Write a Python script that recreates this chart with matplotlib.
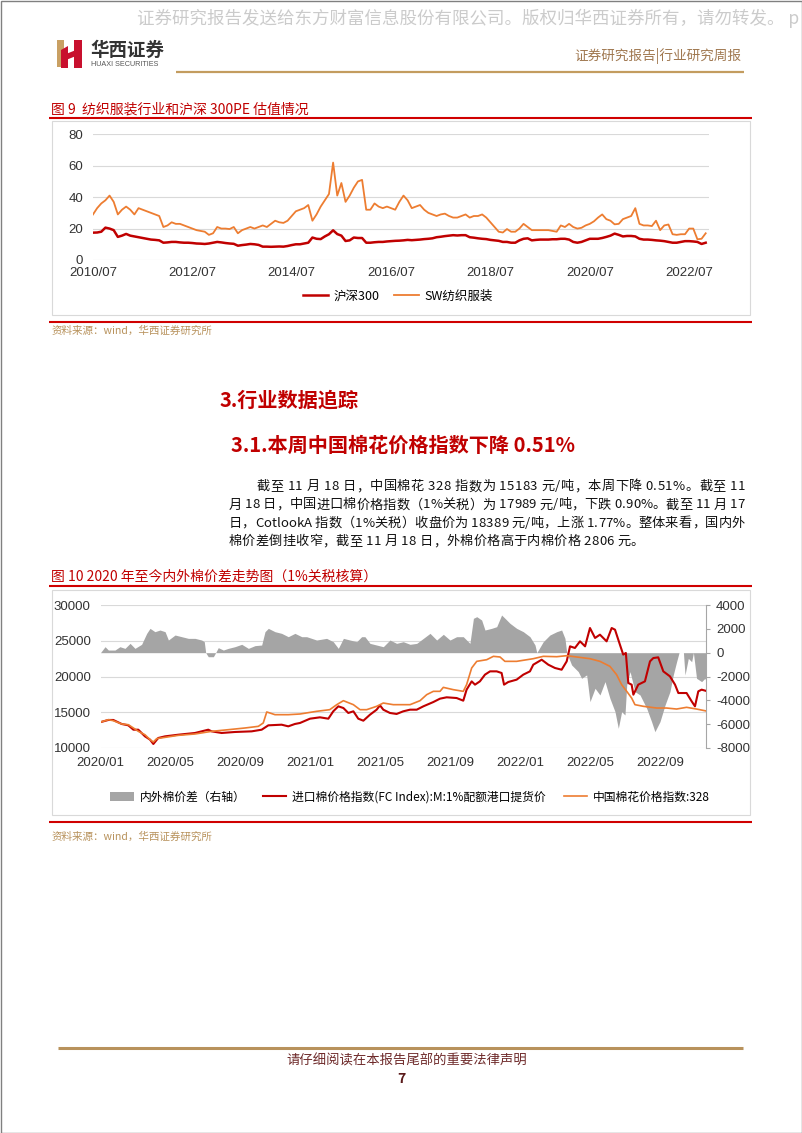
import numpy as np
import matplotlib
matplotlib.use("Agg")
import matplotlib.pyplot as plt
from matplotlib.lines import Line2D
from matplotlib.patches import Rectangle, Polygon, Patch

plt.rcParams['font.family'] = ['Noto Sans CJK SC', 'DejaVu Sans']
plt.rcParams['axes.unicode_minus'] = False
NUM = ['Liberation Sans Narrow', 'Liberation Sans', 'DejaVu Sans']

# ---- figure 9 data: monthly PE, 2010/07 .. 2022/11 ----
pe_ticks = [0, 24, 48, 72, 96, 120, 144]
pe_tick_labels = ["2010/07", "2012/07", "2014/07", "2016/07", "2018/07", "2020/07", "2022/07"]
hs300_pe = [17.4, 17.5, 18, 20.6, 20, 19,
            14.7, 15.5, 16.6, 15.5, 15, 14.5, 14, 13.5, 13, 12.8, 12.5, 11,
            11.2, 11.5, 11.5, 11.2, 11, 11, 10.8, 10.5, 10.4, 10.2, 10.5, 11,
            11.5, 11.2, 10.8, 10.5, 10.3, 9.1, 9.5, 9.8, 10.2, 10, 9.6, 8.5,
            8.5, 8.4, 8.5, 8.6, 8.5, 8.9, 9.5, 10, 10, 10.5, 11, 14.3,
            13.5, 13.3, 15, 16.4, 18.9, 16.5, 15.5, 12.1, 12.5, 14.3, 14, 14,
            11, 11, 11.3, 11.5, 11.5, 11.8, 12, 12.2, 12.3, 12.5, 12.8, 12.6,
            12.8, 13, 13.3, 13.5, 13.8, 14.5, 14.8, 15.2, 15.5, 15.8, 15.6, 15.8,
            15.8, 14.5, 14.2, 13.8, 13.5, 13.3, 12.8, 12.5, 12.2, 11.5, 11.5, 11,
            11, 12.5, 13.5, 13.8, 12.5, 12.8, 13, 13, 13, 13.2, 13.2, 13.5,
            13.5, 13, 11.5, 11, 11.5, 12.5, 13.5, 13.5, 13.5, 14, 14.7, 15.5,
            16.8, 16, 15, 15.3, 15.3, 15, 13.5, 13, 13, 12.8, 12.5, 12.3,
            12, 11.5, 11, 11, 11.5, 12, 12, 11.8, 11.5, 10.2, 11]
sw_textile_pe = [29, 33, 36, 38, 41, 37,
                 29, 32, 34, 32, 29, 33, 32, 31, 30, 29, 28, 21,
                 22, 24, 23, 23, 22, 21, 20, 19, 18.5, 18, 16, 17,
                 21, 20, 20, 19.7, 21, 17, 19, 20, 21, 20, 21, 22,
                 21, 23, 25, 24, 23.6, 25, 28, 31, 32, 33, 35, 25,
                 29, 34, 38, 42, 62, 41, 49, 37, 41, 46, 50, 51,
                 32, 32, 36, 34, 33, 34, 33, 32, 37, 41, 38, 33,
                 34, 35, 32, 30, 29, 28, 29, 29.5, 28, 27, 27, 28,
                 29, 27, 28, 28, 29, 27, 24, 21, 18, 17.5, 19.7, 18,
                 18, 20, 23, 21, 19, 19, 19, 19, 19, 18.5, 18, 22,
                 21, 23, 21, 20, 20.5, 22, 23, 24.6, 27, 29, 26, 25,
                 22.7, 23, 26, 27, 28, 33, 23, 22, 22, 21.6, 25, 19,
                 22, 22.6, 16.4, 16, 16.4, 16.4, 20, 20, 13.2, 13.5, 17]
pe_months = np.arange(len(hs300_pe))

# ---- figure 10 data: months since 2020/01 ----
cot_ticks = [0, 4, 8, 12, 16, 20, 24, 28, 32]
cot_tick_labels = ["2020/01", "2020/05", "2020/09", "2021/01", "2021/05",
                   "2021/09", "2022/01", "2022/05", "2022/09"]
inner_m = [0.03, 0.45, 0.73, 1.21, 1.59, 1.88, 2.16, 2.54, 2.83, 3.02, 3.21, 3.69, 4.45, 5.40,
           6.35, 7.30, 8.26, 9.02, 9.30, 9.50, 9.97, 10.73, 11.4, 12.35, 13.1, 13.5, 13.88,
           14.07, 14.45, 14.83, 15.21, 15.78, 16.16, 16.73, 17.69, 18.26, 18.64, 19.02, 19.4,
           19.59, 20.16, 20.73, 20.92, 21.21, 21.5, 22.07, 22.45, 22.83, 23.11, 23.78, 24.73,
           25.3, 26.07, 26.64, 27.21, 27.97, 28.54, 29.11, 29.49, 29.78, 30.07, 30.35, 30.54,
           31.02, 31.78, 32.35, 32.92, 33.49, 34.06, 34.6]
inner_price = [13640, 13960, 13820, 13360, 13260, 12800, 12330, 11860, 11170, 10840, 11310,
               11490, 11770, 11960, 12330, 12560, 12800, 13030, 13500, 15040, 14660, 14660,
               14755, 15130, 15360, 16060, 16620, 16430, 16060, 15360, 15360, 15830, 16290,
               16060, 16060, 16620, 17460, 17925, 17925, 18480, 18160, 17925, 18860, 21190,
               22120, 22350, 22820, 22730, 22120, 22120, 22490, 22820, 22770, 22910, 22730,
               22490, 22120, 21420, 20260, 18860, 17925, 16990, 16060, 15830, 15590, 15590,
               15450, 15690, 15450, 15183]
import_m = [0.03, 0.45, 0.73, 1.21, 1.59, 1.88, 2.16, 2.54, 2.83, 3.02, 3.30, 3.69, 4.45, 5.40,
            6.16, 6.35, 6.92, 7.68, 8.64, 9.21, 9.59, 10.35, 10.73, 11.11, 11.4, 11.97, 12.54,
            13.02, 13.3, 13.59, 13.88, 14.16, 14.45, 14.73, 15.02, 15.4, 15.78, 15.97, 16.16,
            16.54, 16.92, 17.3, 17.69, 18.07, 18.45, 19.02, 19.4, 19.78, 20.35, 20.73, 20.92,
            21.21, 21.4, 21.68, 21.97, 22.26, 22.64, 22.92, 23.06, 23.3, 23.78, 24.16, 24.54,
            24.73, 25.21, 25.59, 25.97, 26.35, 26.64, 26.83, 27.11, 27.4, 27.69, 27.97, 28.26,
            28.54, 28.92, 29.21, 29.4, 29.68, 29.87, 30.02, 30.16, 30.35, 30.45, 30.73, 31.11,
            31.4, 31.59, 31.87, 32.16, 32.54, 32.83, 33.02, 33.49, 33.78, 33.97, 34.16, 34.35, 34.6]
import_price = [13640, 13920, 13920, 13360, 13170, 12560, 12560, 11630, 11170, 10560, 11400,
                11630, 11860, 12100, 12560, 12330, 12100, 12240, 12330, 12560, 13170, 13260,
                13030, 13360, 13500, 14100, 14290, 14100, 15130, 15830, 15590, 14900, 15130,
                14100, 13820, 14660, 15360, 15970, 15360, 14900, 14760, 15130, 15360, 15360,
                15830, 16430, 16900, 17090, 16990, 16620, 18160, 19320, 18860, 19320, 20260,
                20720, 20720, 20490, 18860, 19230, 19560, 20260, 20720, 21650, 22350, 21650,
                21190, 20950, 22120, 24220, 23990, 24920, 24220, 26780, 25390, 25850, 24920,
                26780, 26550, 24460, 23060, 23290, 19090, 18860, 17460, 18860, 19320, 22120,
                22580, 22680, 20720, 20020, 18860, 17690, 17690, 16530, 15830, 17925, 18160, 17989]
spread_m = [0.0, 0.26, 0.45, 0.83, 1.11, 1.4, 1.69, 1.97, 2.35, 2.64, 2.83, 3.11, 3.4, 3.69,
            3.88, 4.26, 4.64, 5.02, 5.4, 5.78, 5.93, 6.01, 6.16, 6.45, 6.58, 6.73, 7.02, 7.3,
            7.68, 8.07, 8.45, 8.83, 9.21, 9.4, 9.59, 9.97, 10.35, 10.73, 11.11, 11.5, 11.78,
            12.35, 12.92, 13.3, 13.59, 13.88, 14.26, 14.64, 14.92, 15.11, 15.4, 15.78, 16.16,
            16.54, 16.92, 17.3, 17.69, 18.07, 18.45, 18.83, 19.21, 19.59, 19.97, 20.35, 20.73,
            21.11, 21.31, 21.5, 21.78, 21.97, 22.35, 22.64, 22.92, 23.21, 23.4, 23.78, 24.16,
            24.54, 24.83, 24.93, 25.02, 25.3, 25.68, 26.07, 26.35, 26.54, 26.64, 26.92, 27.3,
            27.49, 27.78, 27.97, 28.26, 28.54, 28.83, 29.11, 29.4, 29.59, 29.78, 29.97, 30.07,
            30.26, 30.54, 30.83, 31.21, 31.49, 31.68, 31.97, 32.26, 32.54, 32.73, 32.92, 33.06,
            33.31, 33.4, 33.59, 33.78, 33.88, 34.06, 34.35, 34.54, 34.6]
spread_val = [0, 500, 220, 220, 500, 360, 780, 360, 700, 1620, 2040, 1760, 1900, 1760, 1060,
              1480, 1340, 1200, 1200, 1060, 920, 0, -340, -340, 0, 420, 220, 360, 500, 700,
              360, 590, 640, 1760, 2040, 1760, 1620, 1340, 1620, 1340, 1340, 1060, 1200, 920,
              360, 1200, 1060, 920, 1340, 1340, 780, 640, 500, 1060, 780, 920, 700, 780, 1200,
              1620, 1060, 1540, 1060, 1340, 1340, 780, 2880, 3020, 2740, 1900, 2040, 2180, 3160,
              2740, 2460, 2040, 1760, 1340, 640, 0, 220, 920, 1480, 1760, 1900, 1200, 0, -1030,
              -1590, -2150, -1870, -4110, -2990, -3550, -2430, -3830, -4950, -6350, -4950, -5230,
              -2710, -1590, -3270, -3550, -4670, -5790, -6630, -5790, -4390, -3270, -1870, -760,
              0, 0, -1870, -480, -760, 0, -2150, -2430, -2150, -2400]

para_lines = [
    "截至 11 月 18 日，中国棉花 328 指数为 15183 元/吨，本周下降 0.51%。截至 11",
    "月 18 日，中国进口棉价格指数（1%关税）为 17989 元/吨，下跌 0.90%。截至 11 月 17",
    "日，CotlookA 指数（1%关税）收盘价为 18389 元/吨，上涨 1.77%。整体来看，国内外",
    "棉价差倒挂收窄，截至 11 月 18 日，外棉价格高于内棉价格 2806 元。",
]

RED = '#c00000'
ORANGE = '#ed7d31'
GOLD = '#b8925c'
GRID = '#d9d9d9'

W, H = 802, 1133
fig = plt.figure(figsize=(W / 100, H / 100), dpi=100)


def fx(x):
    return x / W


def fy(y):
    return 1 - y / H


def box(l, t, r, b):
    return [l / W, 1 - b / H, (r - l) / W, (b - t) / H]


def hline(x1, x2, y, color, lw):
    fig.add_artist(Line2D([fx(x1), fx(x2)], [fy(y), fy(y)], transform=fig.transFigure,
                          color=color, lw=lw, solid_capstyle='butt'))


def frame(l, t, r, b, color, lw):
    fig.add_artist(Rectangle((fx(l), fy(b)), (r - l) / W, (b - t) / H, transform=fig.transFigure,
                             fill=False, edgecolor=color, lw=lw))


def poly(pts, color):
    fig.add_artist(Polygon([(fx(a), fy(b)) for a, b in pts], closed=True,
                           transform=fig.transFigure, facecolor=color, edgecolor='none'))


def txt(x, y, s, **kw):
    kw.setdefault('va', 'center')
    return fig.text(fx(x), fy(y), s, **kw)


renderer = fig.canvas.get_renderer()


def width_of(s, size):
    t = fig.text(0, 0, s, size=size)
    w = t.get_window_extent(renderer).width
    t.remove()
    return w


def spaced_line(x0, y, s, size, x1=None, extra=None):
    # place characters one by one so the line can be stretched like the report text
    mark = width_of('x', size)
    pre = [0.0] + [width_of(s[:k] + 'x', size) - mark for k in range(1, len(s))]
    if extra is None:
        extra = (x1 - x0 - width_of(s, size)) / (len(s) - 1)
    for k, ch in enumerate(s):
        if ch != ' ':
            txt(x0 + pre[k] + k * extra, y, ch, size=size, color='#111111', ha='left')
    return extra


# ---- page frame & header ----
frame(0.5, 0.5, W - 0.5, H - 0.5, '#808080', 1.0)
txt(137, 18, "证券研究报告发送给东方财富信息股份有限公司。版权归华西证券所有，请勿转发。 p",
    size=12.6, color='#cbcbcb')
poly([(57, 40), (64, 40), (64, 67), (57, 67)], '#c9a063')
poly([(61, 50), (68, 46), (68, 68), (61, 68)], '#c8102e')
poly([(74, 40), (82, 40), (82, 68), (74, 68)], '#c8102e')
poly([(66, 54), (76, 50), (76, 56), (66, 60)], '#c8102e')
txt(90, 50, "华西证券", size=13.3, weight='bold', color='#333333')
txt(91, 64, "HUAXI SECURITIES", size=5.2, color='#555555', family=NUM)
txt(741, 56, "证券研究报告|行业研究周报", size=9.8, color='#a07850', ha='right')
hline(176, 744, 72, '#c39c5f', 1.6)

# ---- figure 9 ----
txt(51, 110, "图 9  纺织服装行业和沪深 300PE 估值情况", size=10, color=RED)
hline(49, 752, 118, '#d00000', 1.5)
frame(52, 121, 750, 315, GRID, 0.8)

ax1 = fig.add_axes(box(93, 134.3, 709, 260))
l_hs, = ax1.plot(pe_months, hs300_pe, color=RED, lw=1.8)
l_sw, = ax1.plot(pe_months, sw_textile_pe, color=ORANGE, lw=1.3)
ax1.set_xlim(0, 148.8)
ax1.set_ylim(0, 80)
ax1.set_yticks([0, 20, 40, 60, 80])
ax1.set_xticks(pe_ticks)
ax1.set_xticklabels(pe_tick_labels)
ax1.grid(axis='y', color=GRID, lw=0.8)
ax1.set_axisbelow(True)
for s in ax1.spines.values():
    s.set_visible(False)
ax1.tick_params(length=0, labelsize=9.5, colors='#333333')
ax1.tick_params(axis='y', pad=7)
ax1.tick_params(axis='x', pad=5)
for lab in ax1.get_xticklabels() + ax1.get_yticklabels():
    lab.set_fontfamily(NUM)
fig.legend([l_hs, l_sw], ["沪深300", "SW纺织服装"], loc='center',
           bbox_to_anchor=(fx(398), fy(296)), ncol=2, frameon=False, fontsize=9,
           handlelength=2.0, columnspacing=1.2, handletextpad=0.4)

hline(49, 752, 322, '#d00000', 1.5)
txt(52, 331, "资料来源：wind，华西证券研究所", size=7.6, color=GOLD)

# ---- section text ----
txt(220, 400, "3.行业数据追踪", size=14.5, weight='bold', color=RED)
txt(231, 445, "3.1.本周中国棉花价格指数下降 0.51%", size=14.5, weight='bold', color=RED)
para_y = [486.7, 505, 523.3, 541.7]
gaps = []
gaps.append(spaced_line(256.7, para_y[0], para_lines[0], 9.5, x1=745))
gaps.append(spaced_line(228.3, para_y[1], para_lines[1], 9.5, x1=745))
gaps.append(spaced_line(228.3, para_y[2], para_lines[2], 9.5, x1=745))
spaced_line(228.3, para_y[3], para_lines[3], 9.5, extra=float(np.mean(gaps)))

# ---- figure 10 ----
txt(51, 577, "图 10 2020 年至今内外棉价差走势图（1%关税核算）", size=10, color=RED)
hline(49, 752, 586, '#d00000', 1.5)
frame(52, 590, 750, 815, GRID, 0.8)

pos2 = box(100.5, 605, 706, 748)
axg = fig.add_axes(pos2)
axg.set_xlim(0, 34.6)
axg.set_ylim(10000, 30000)
axg.set_yticks([10000, 15000, 20000, 25000, 30000])
axg.grid(axis='y', color=GRID, lw=0.8)
axg.tick_params(length=0, labelleft=False, labelbottom=False)
for s in axg.spines.values():
    s.set_visible(False)

axr = fig.add_axes(pos2)
axr.patch.set_visible(False)
axr.fill_between(spread_m, spread_val, 0, color='#a5a5a5', lw=0)
axr.set_xlim(0, 34.6)
axr.set_ylim(-8000, 4000)
axr.set_yticks([-8000, -6000, -4000, -2000, 0, 2000, 4000])
axr.yaxis.tick_right()
axr.set_xticks([])
for k, s in axr.spines.items():
    s.set_visible(k == 'right')
axr.spines['right'].set_color('#a6a6a6')
axr.spines['right'].set_linewidth(0.8)
axr.tick_params(axis='y', direction='out', length=3, color='#a6a6a6', pad=4.3,
                labelsize=9.5, labelcolor='#333333')
for lab in axr.get_yticklabels():
    lab.set_fontfamily(NUM)

axl = fig.add_axes(pos2)
axl.patch.set_visible(False)
l_imp, = axl.plot(import_m, import_price, color=RED, lw=1.5)
l_inn, = axl.plot(inner_m, inner_price, color=ORANGE, lw=1.2)
axl.set_xlim(0, 34.6)
axl.set_ylim(10000, 30000)
axl.set_yticks([10000, 15000, 20000, 25000, 30000])
axl.set_xticks(cot_ticks)
axl.set_xticklabels(cot_tick_labels)
for s in axl.spines.values():
    s.set_visible(False)
axl.tick_params(length=0, labelsize=9.5, colors='#333333')
axl.tick_params(axis='y', pad=7)
axl.tick_params(axis='x', pad=6.5)
for lab in axl.get_xticklabels() + axl.get_yticklabels():
    lab.set_fontfamily(NUM)

fig.legend([Patch(facecolor='#a5a5a5'), l_imp, l_inn],
           ["内外棉价差（右轴）", "进口棉价格指数(FC Index):M:1%配额港口提货价", "中国棉花价格指数:328"],
           loc='center', bbox_to_anchor=(fx(410), fy(797)), ncol=3, frameon=False, fontsize=8.5,
           handlelength=2.0, columnspacing=1.5, handletextpad=0.5)

hline(49, 752, 822, '#d00000', 1.5)
txt(52, 837, "资料来源：wind，华西证券研究所", size=7.6, color=GOLD)

# ---- footer ----
hline(58, 743, 1048, GOLD, 2.2)
txt(407, 1061, "请仔细阅读在本报告尾部的重要法律声明", size=9.6, color='#6e2a2a', ha='center')
txt(401, 1079, "7", size=10, weight='bold', color='#5a1a1a', ha='center')

fig.savefig("out.png", dpi=100)
